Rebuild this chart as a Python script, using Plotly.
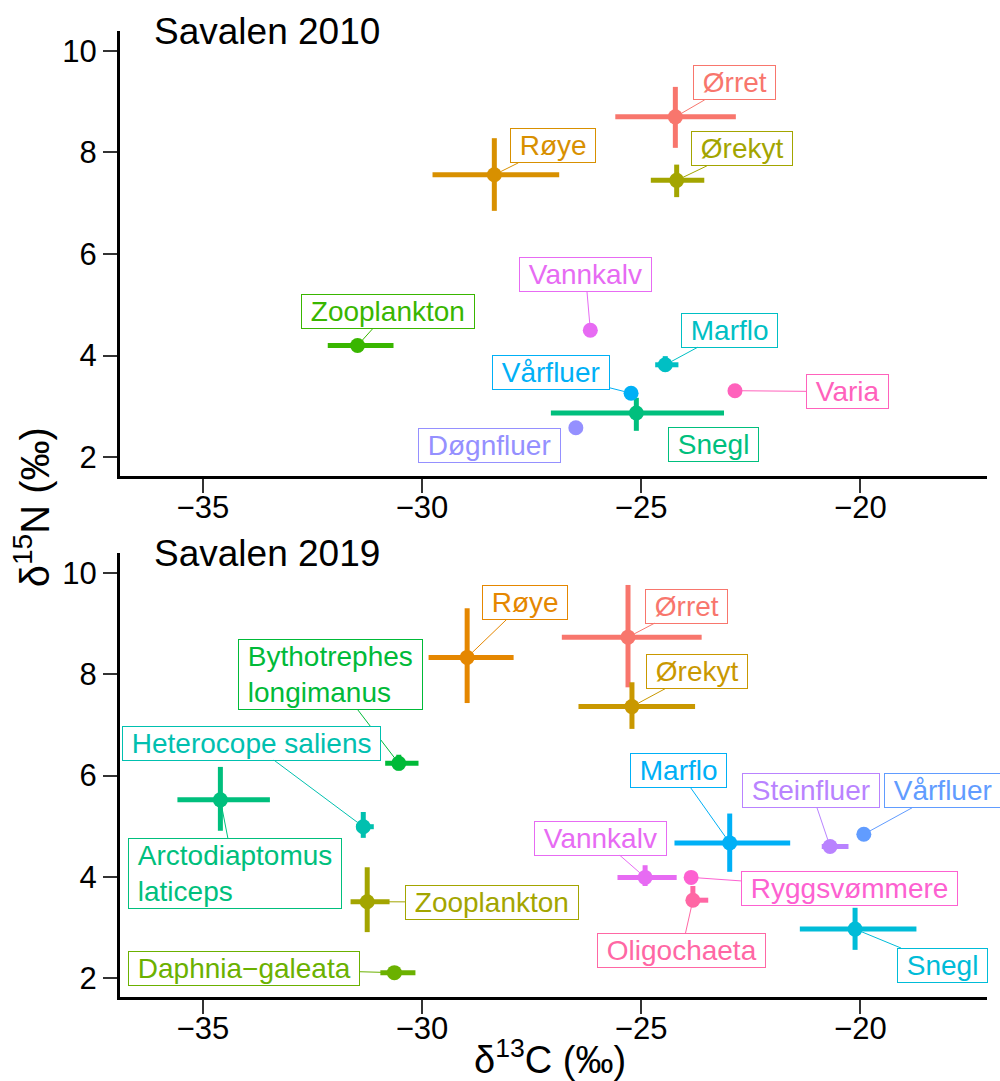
import plotly.graph_objects as go
from plotly.subplots import make_subplots

FONT = "Liberation Sans, Arial, Helvetica, sans-serif"

# ---------------- Savalen 2010 ----------------
names_2010 = ["Ørret", "Røye", "Ørekyt", "Zooplankton", "Snegl", "Marflo",
              "Vårfluer", "Døgnfluer", "Vannkalv", "Varia"]
colors_2010 = ["#F8766D", "#D89000", "#A3A500", "#39B600", "#00BF7D", "#00BFC4",
               "#00B0F6", "#9590FF", "#E76BF3", "#FF62BC"]
x_2010 = [-24.22, -28.35, -24.19, -31.47, -25.11, -24.45, -25.23, -26.49, -26.16, -22.86]
y_2010 = [8.70, 7.56, 7.45, 4.20, 2.87, 3.82, 3.26, 2.58, 4.50, 3.31]
xlo_2010 = [-25.59, -29.76, -24.78, -32.15, -27.06, -24.68, None, None, None, None]
xhi_2010 = [-22.84, -26.87, -23.56, -30.65, -23.11, -24.15, None, None, None, None]
ylo_2010 = [8.09, 6.85, 7.12, None, 2.52, 3.69, None, None, None, None]
yhi_2010 = [9.29, 8.28, 7.76, None, 3.17, 3.99, None, None, None, None]
labx_2010 = [-22.88, -27.02, -22.69, -30.77, -23.35, -22.99, -27.06, -28.46, -26.27, -20.30]
laby_2010 = [9.37, 8.13, 8.07, 4.87, 2.25, 4.50, 3.66, 2.23, 5.60, 3.29]
seg_2010 = [True, True, True, True, False, True, True, False, True, True]

# ---------------- Savalen 2019 ----------------
names_2019 = ["Ørret", "Røye", "Ørekyt", "Zooplankton", "Daphnia−galeata",
              "Bythotrephes<br>longimanus", "Arctodiaptomus<br>laticeps", "Heterocope saliens",
              "Snegl", "Marflo", "Vårfluer", "Steinfluer", "Vannkalv", "Ryggsvømmere", "Oligochaeta"]
colors_2019 = ["#F8766D", "#E58700", "#C99800", "#A3A500", "#6BB100",
               "#00BA38", "#00BF7D", "#00C0AF", "#00BCD8", "#00B0F6",
               "#619CFF", "#B983FF", "#E76BF3", "#FD61D1", "#FF67A4"]
x_2019 = [-25.30, -28.97, -25.21, -31.25, -30.63, -30.53, -34.60, -31.34,
          -20.12, -22.98, -19.92, -20.69, -24.91, -23.86, -23.82]
y_2019 = [8.73, 8.33, 7.36, 3.51, 2.11, 6.24, 5.52, 4.99,
          2.97, 4.67, 4.84, 4.60, 3.99, 3.99, 3.54]
xlo_2019 = [-26.81, -29.85, -26.43, -31.63, -30.95, -30.84, -35.58, -31.50,
            -21.38, -24.24, None, -20.88, -25.54, None, -23.92]
xhi_2019 = [-23.62, -27.91, -23.77, -30.74, -30.15, -30.08, -33.47, -31.10,
            -18.72, -21.60, None, -20.27, -24.19, None, -23.47]
ylo_2019 = [7.74, 7.43, 6.92, 2.91, None, 6.10, 4.91, 4.77,
            2.56, 4.10, None, None, 3.82, None, 3.41]
yhi_2019 = [9.76, 9.30, 7.84, 4.19, None, 6.41, 6.17, 5.28,
            3.39, 5.25, None, None, 4.23, None, 3.82]
labx_2019 = [-23.96, -27.66, -23.73, -28.40, -34.05, -32.08, -34.27, -33.90,
             -18.13, -24.15, -18.11, -21.12, -25.93, -20.25, -24.08]
laby_2019 = [9.34, 9.42, 8.05, 3.50, 2.19, 7.99, 4.06, 6.64,
             2.26, 6.10, 5.70, 5.70, 4.76, 3.77, 2.54]
seg_2019 = [True] * 15

panel_titles = ["Savalen 2010", "Savalen 2019"]
x_ticks = [-35, -30, -25, -20]
y_ticks = [2, 4, 6, 8, 10]
x_range = [-36.89, -17.11]
y_range = [1.63, 10.39]

fig = make_subplots(rows=2, cols=1)

panels = [
    (names_2010, colors_2010, x_2010, y_2010, xlo_2010, xhi_2010, ylo_2010, yhi_2010,
     labx_2010, laby_2010, seg_2010),
    (names_2019, colors_2019, x_2019, y_2019, xlo_2019, xhi_2019, ylo_2019, yhi_2019,
     labx_2019, laby_2019, seg_2019),
]

annotations = []
NB = "\u00a0"
for p, (nm, cl, xs, ys, xlo, xhi, ylo, yhi, lx, ly, seg) in enumerate(panels):
    row = p + 1
    xr = "x" if p == 0 else "x2"
    yr = "y" if p == 0 else "y2"
    # error bars
    for i in range(len(nm)):
        if xlo[i] is not None:
            fig.add_trace(go.Scatter(x=[xlo[i], xhi[i]], y=[ys[i], ys[i]], mode="lines",
                                     line=dict(color=cl[i], width=5), hoverinfo="skip",
                                     showlegend=False), row=row, col=1)
        if ylo[i] is not None:
            fig.add_trace(go.Scatter(x=[xs[i], xs[i]], y=[ylo[i], yhi[i]], mode="lines",
                                     line=dict(color=cl[i], width=5), hoverinfo="skip",
                                     showlegend=False), row=row, col=1)
    # points
    fig.add_trace(go.Scatter(x=xs, y=ys, mode="markers",
                             marker=dict(color=cl, size=15, line=dict(width=0)),
                             text=[n.replace("<br>", " ") for n in nm],
                             showlegend=False), row=row, col=1)
    # labels
    for i in range(len(nm)):
        txt = "<br>".join(NB + part + NB for part in nm[i].split("<br>"))
        base = dict(text=txt, font=dict(family=FONT, size=28, color=cl[i]),
                    bgcolor="white", bordercolor=cl[i], borderwidth=1, borderpad=1,
                    align="left")
        if seg[i]:
            base.update(x=xs[i], y=ys[i], xref=xr, yref=yr, ax=lx[i], ay=ly[i],
                        axref=xr, ayref=yr, showarrow=True, arrowhead=0,
                        arrowwidth=1, arrowcolor=cl[i], standoff=7)
        else:
            base.update(x=lx[i], y=ly[i], xref=xr, yref=yr, showarrow=False,
                        xanchor="center", yanchor="middle")
        annotations.append(base)
    # panel title
    annotations.append(dict(text=panel_titles[p], xref="paper", yref=yr + " domain",
                            x=0.037, y=1.0, xanchor="left", yanchor="middle",
                            showarrow=False, font=dict(family=FONT, size=37, color="black")))

# axis titles
annotations.append(dict(text="δ<sup>13</sup>C (‰)", xref="paper", yref="paper",
                        x=0.496, y=-0.0621, xanchor="center", yanchor="middle",
                        showarrow=False, font=dict(family=FONT, size=38, color="black")))
annotations.append(dict(text="δ<sup>15</sup>N (‰)", xref="paper", yref="paper",
                        x=-0.1015, y=0.507, xanchor="center", yanchor="middle",
                        textangle=-90, showarrow=False,
                        font=dict(family=FONT, size=40, color="black")))

axis_common = dict(showgrid=False, zeroline=False, showline=True, linecolor="black",
                   linewidth=3, ticks="outside", ticklen=14, tickwidth=1.5,
                   tickcolor="#333333", tickfont=dict(family=FONT, size=31, color="black"))

fig.update_layout(
    width=1000, height=1081,
    margin=dict(l=120, r=13, t=31, b=84),
    paper_bgcolor="white", plot_bgcolor="white",
    showlegend=False,
    annotations=annotations,
    xaxis=dict(domain=[0, 1], range=x_range, tickvals=x_ticks, anchor="y",
               ticklabelstandoff=-12, **axis_common),
    yaxis=dict(domain=[0.5393, 1.0], range=y_range, tickvals=y_ticks, anchor="x", **axis_common),
    xaxis2=dict(domain=[0, 1], range=x_range, tickvals=x_ticks, anchor="y2",
                ticklabelstandoff=-12, **axis_common),
    yaxis2=dict(domain=[0.0, 0.4596], range=y_range, tickvals=y_ticks, anchor="x2", **axis_common),
)

fig.write_html("out.html")
